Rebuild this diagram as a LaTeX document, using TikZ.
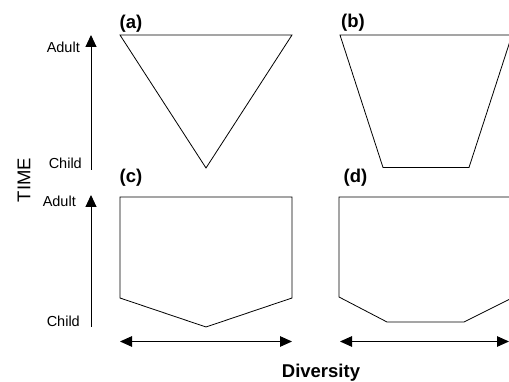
\documentclass[tikz,border=0pt]{standalone}
\usepackage{fontspec}
\setmainfont{Liberation Sans}
\usetikzlibrary{arrows.meta}
\tikzset{
    % Outline of each panel
    outline/.style={
        draw=black,
        line width=0.8pt,
        line join=miter
    },
    % Arrow styles
    timearrow/.style={
        -{Triangle[length=12pt,width=11pt]},
        line width=1pt
    },
    diversityarrow/.style={
        {Triangle[length=12pt,width=10.5pt]}-{Triangle[length=12pt,width=10.5pt]},
        line width=1pt
    },
    % Text styles
    stagelabel/.style={
        anchor=east,
        inner sep=0pt,
        font=\fontsize{14.5}{17}\selectfont
    },
    panellabel/.style={
        inner sep=0pt,
        font=\fontsize{18.5}{22}\selectfont\bfseries
    },
    axistitle/.style={
        inner sep=0pt,
        font=\fontsize{18.5}{22}\selectfont
    }
}
\begin{document}
\begin{tikzpicture}[x=1pt, y=1pt]
    \clip (0,0) rectangle (509,382);
    \useasboundingbox (0,0) rectangle (509,382);

    % Time axis, upper row
    \coordinate (childA) at (91,212);
    \coordinate (adultA) at (91,347);
    \draw[timearrow] (childA) -- (adultA);
    \node[stagelabel] (adultlabA) at (80,334.5) {Adult};
    \node[stagelabel] (childlabA) at (82,219) {Child};

    % Time axis, lower row
    \coordinate (childC) at (91,55);
    \coordinate (adultC) at (91,187);
    \draw[timearrow] (childC) -- (adultC);
    \node[stagelabel] (adultlabC) at (76,181) {Adult};
    \node[stagelabel] (childlabC) at (80,61) {Child};

    \node[axistitle, rotate=90] (time) at (24,202) {TIME};

    % Panel (a)
    \node[panellabel] (labA) at (131,358.5) {(a)};
    \draw[outline] (120,347) -- (292,347) -- (206,214) -- cycle;

    % Panel (b)
    \node[panellabel] (labB) at (353,359) {(b)};
    \draw[outline] (340,347) -- (512,347) -- (469,214.5) -- (383,214.5) -- cycle;

    % Panel (c)
    \node[panellabel] (labC) at (131,204) {(c)};
    \draw[outline] (120,185) -- (292,185) -- (292,84) -- (206,55) -- (120,84) -- cycle;

    % Panel (d)
    \node[panellabel] (labD) at (355.5,204.5) {(d)};
    \draw[outline] (339,185) -- (514,185) -- (514,85) -- (464,60) -- (387,60) -- (339,85) -- cycle;

    % Diversity axes
    \coordinate (lowC) at (120,40.5);
    \coordinate (highC) at (292,40.5);
    \draw[diversityarrow] (lowC) -- (highC);
    \coordinate (lowD) at (340,40.5);
    \coordinate (highD) at (509,40.5);
    \draw[diversityarrow] (lowD) -- (highD);

    \node[panellabel] (diversity) at (321,9.5) {Diversity};
\end{tikzpicture}
\end{document}
